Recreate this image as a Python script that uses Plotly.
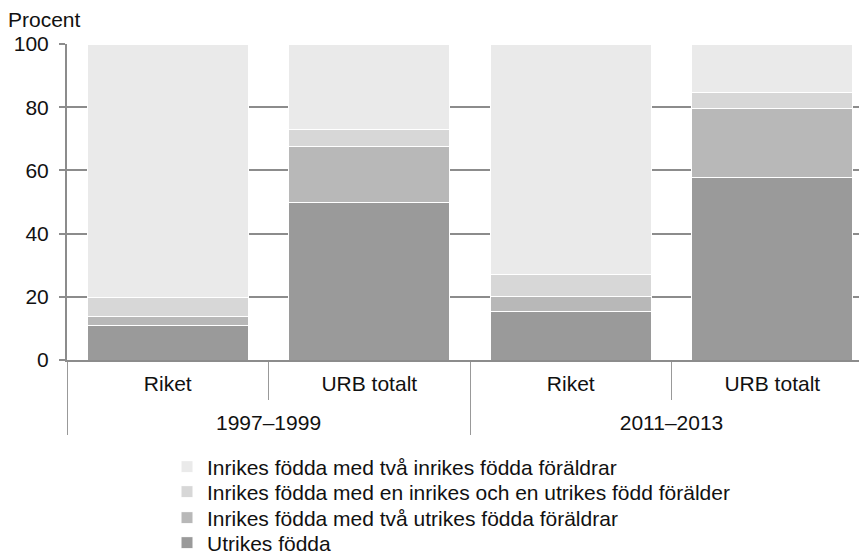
import plotly.graph_objects as go

periods = ["1997–1999", "1997–1999", "2011–2013", "2011–2013"]
regions = ["Riket", "URB totalt", "Riket", "URB totalt"]

series_names = [
    "Utrikes födda",
    "Inrikes födda med två utrikes födda föräldrar",
    "Inrikes födda med en inrikes och en utrikes född förälder",
    "Inrikes födda med två inrikes födda föräldrar",
]
utrikes = [11.0, 49.9, 15.3, 57.6]
tva_utrikes = [2.8, 17.7, 4.7, 22.0]
en_inrikes = [6.0, 5.3, 7.1, 5.2]
tva_inrikes = [80.2, 27.1, 72.9, 15.2]
colors = ["#9a9a9a", "#b8b8b8", "#d7d7d7", "#eaeaea"]

values = [utrikes, tva_utrikes, en_inrikes, tva_inrikes]

FONT = "Liberation Sans, Arial, sans-serif"
GRID = "#8c8c8c"
TXT = "#111111"


def label(s):
    # axis font is set larger (for the row spacing); the visible text is 21px
    return "<span style='font-size:21px'>" + s + "</span>"


period_labels = [label(p) for p in periods]
region_labels = [label(r) for r in regions]

# one legend per row so that each row can be placed like the reference
legend_ids = ["legend4", "legend3", "legend2", "legend"]
legend_rows_y = {"legend": -0.3386, "legend2": -0.4177, "legend3": -0.5, "legend4": -0.5791}

fig = go.Figure()
for name, vals, col, lg in zip(series_names, values, colors, legend_ids):
    fig.add_trace(go.Bar(
        x=[period_labels, region_labels], y=vals, name=name, legend=lg,
        marker=dict(color=col, line=dict(color="white", width=1)),
    ))

legend_common = dict(
    orientation="v", x=0.125, xanchor="left", yanchor="middle",
    font=dict(size=21, family=FONT, color=TXT),
    itemwidth=30, bgcolor="rgba(0,0,0,0)", borderwidth=0,
)

layout_legends = {k: dict(legend_common, y=v) for k, v in legend_rows_y.items()}

# page has an 8px body margin: figure is 859x547 placed at (8,8)
fig.update_layout(
    width=859, height=547,
    barmode="stack", bargap=0.2,
    margin=dict(l=59, r=0, t=36, b=195, autoexpand=False),
    plot_bgcolor="white", paper_bgcolor="white",
    font=dict(family=FONT, size=21, color=TXT),
    showlegend=True,
    xaxis=dict(
        type="multicategory",
        range=[-0.5, 3.47],
        automargin=False,
        showline=True, linecolor=GRID, linewidth=2,
        ticks="outside", ticklen=38, tickcolor="#999999", tickwidth=1,
        showdividers=True, dividercolor="#999999", dividerwidth=1,
        tickfont=dict(size=36, family=FONT, color=TXT),
        ticklabelstandoff=-14,
        showgrid=False,
    ),
    yaxis=dict(
        range=[0, 100], tickvals=[0, 20, 40, 60, 80, 100],
        automargin=False,
        showgrid=True, gridcolor=GRID, gridwidth=2,
        showline=True, linecolor=GRID, linewidth=2,
        ticks="outside", ticklen=6, tickcolor=GRID, tickwidth=2,
        zeroline=False,
        tickfont=dict(size=21, family=FONT, color=TXT),
        ticklabelstandoff=6,
    ),
    annotations=[dict(
        text="Procent", xref="paper", yref="paper",
        x=-0.076, y=1.076, xanchor="left", yanchor="middle",
        showarrow=False, font=dict(size=21, family=FONT, color=TXT),
    )],
    **layout_legends,
)

fig.write_html("out.html")
